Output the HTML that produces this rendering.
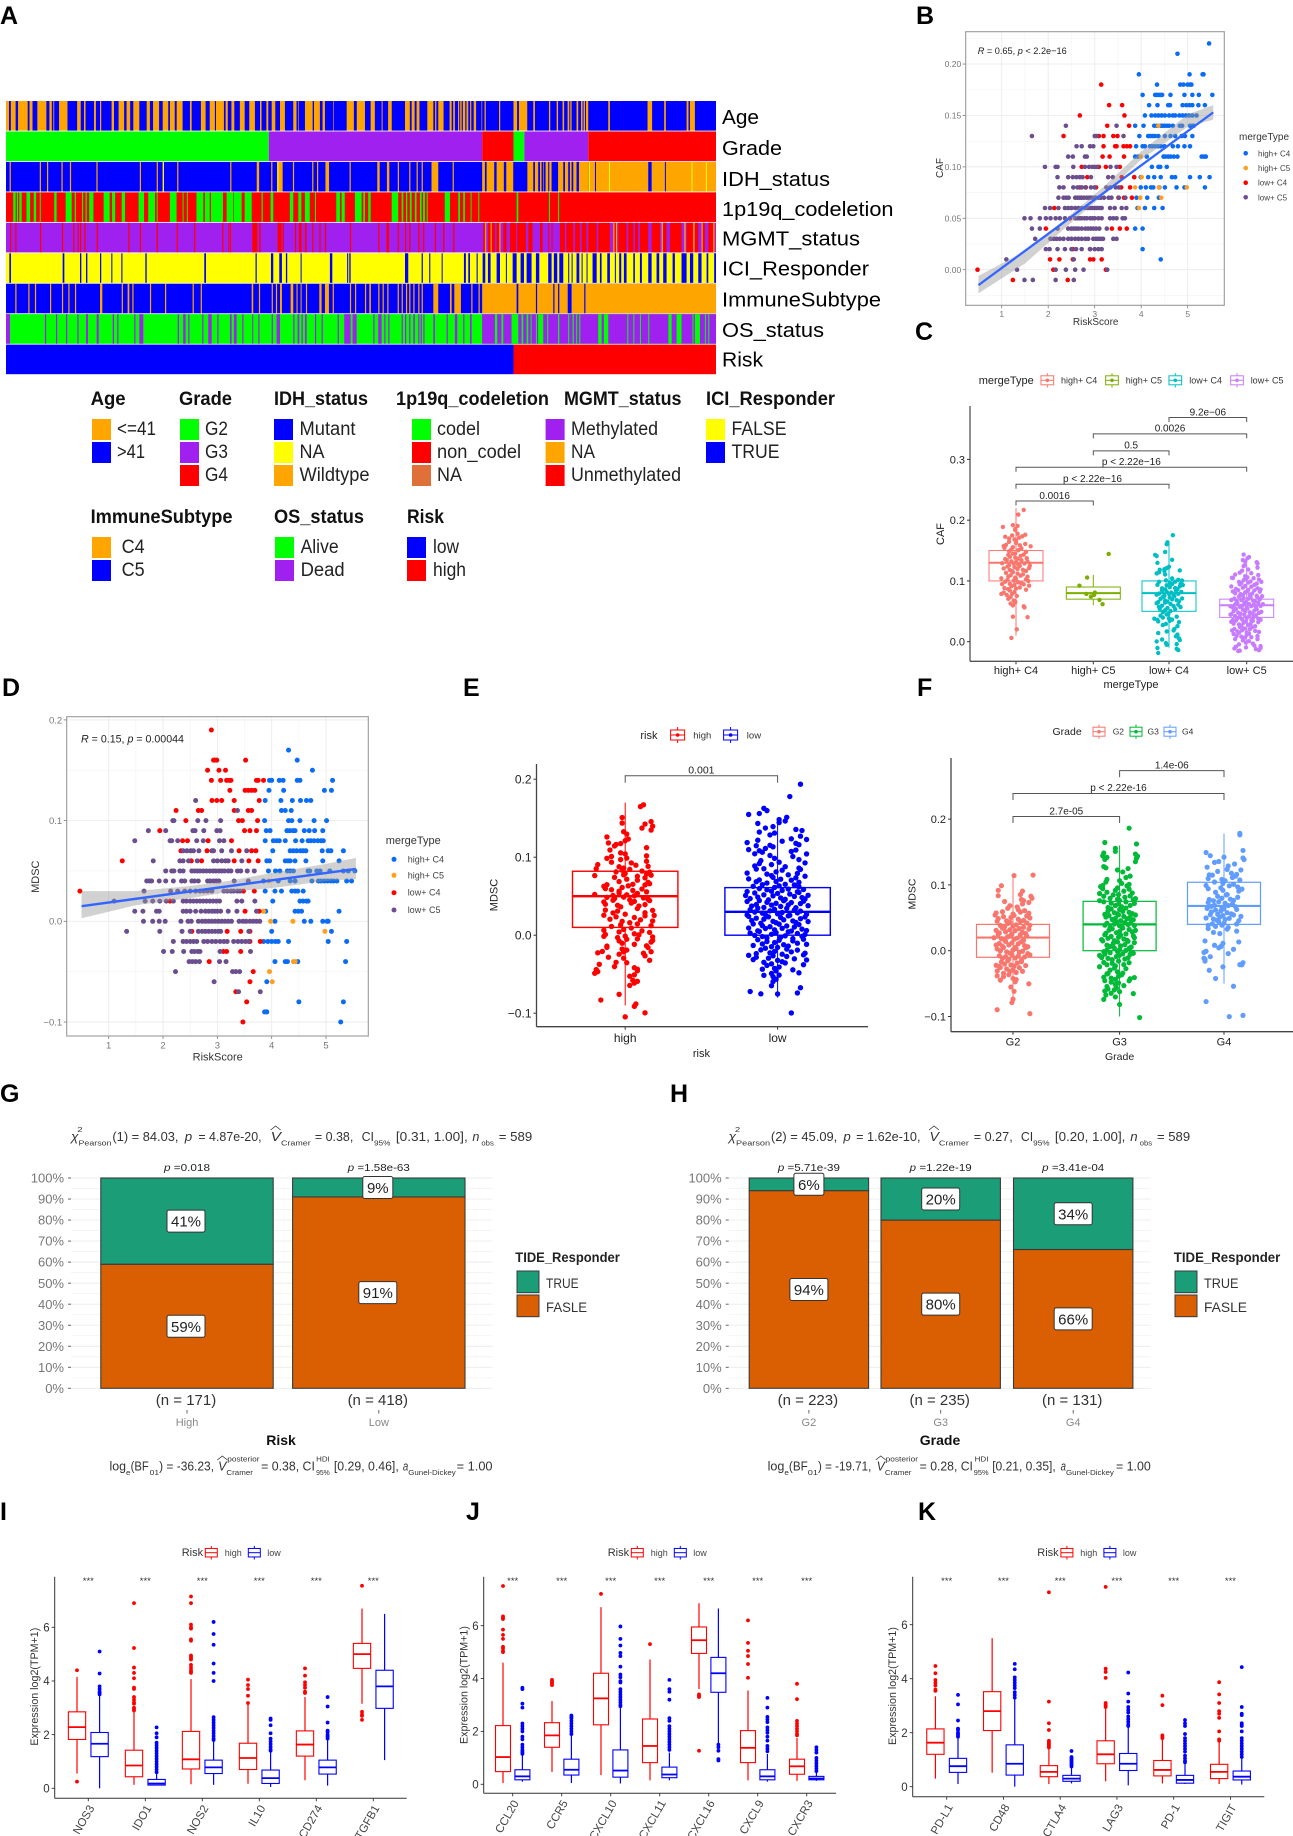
<!DOCTYPE html>
<html lang="en">
<head>
<meta charset="utf-8">
<title>Multi-panel risk score figure</title>
<style>
html,body{margin:0;padding:0;background:#fff}
svg{display:block}
text{font-family:"Liberation Sans",sans-serif}
.letter{font-size:25px;font-weight:bold;fill:#000}
</style>
</head>
<body>
<svg id="figure" width="1293" height="1836" viewBox="0 0 1293 1836">
<rect x="0" y="0" width="1293" height="1836" fill="#fff"/>
<text class="letter" x="0" y="24">A</text>
<text class="letter" x="916" y="24">B</text>
<text class="letter" x="915" y="340">C</text>
<text class="letter" x="2" y="696">D</text>
<text class="letter" x="463" y="696">E</text>
<text class="letter" x="917" y="696">F</text>
<text class="letter" x="0" y="1102">G</text>
<text class="letter" x="670" y="1102">H</text>
<text class="letter" x="0" y="1520">I</text>
<text class="letter" x="466" y="1520">J</text>
<text class="letter" x="918" y="1520">K</text>
</svg>
<script>
/* ===== Panel A: annotation heatmap data (sample indices out of 589) ===== */
const sampleCount = 589;
const trackNames = ["Age","Grade","IDH_status","1p19q_codeletion","MGMT_status","ICI_Responder","ImmuneSubtype","OS_status","Risk"];
const ageBlue = [2.5,4,8,10,18,19.5,22,26,33.5,36,38,39.3,40,44,51,59,62,64.7,66,73,74.6,78,79,87.6,89.6,93.4,98,100,103,105.6,110.6,116.7,119.4,122,127,130,134.6,136,140,141.6,146.5,152.6,154,161.7,165.6,169,173.3,174.2,180.8,182.2,184,187,189.4,194,198,201.8,206.5,210.7,212,216,217.6,220.4,223.4,227.3,231.4,238.3,241,242.5,243,248,254.4,255.5,260.4,262.6,264.6,271.5,272,282.6,288.6,291,297.8,302.5,306,311.6,312.4,317,320,331,335,336.5,339,340.6,343,349.5,354.5,356,357,358.6,363,368,369.7,371,372.4,375,376,376.6,378,379,381,382,383.5,385,386,388,390,394.5,395,397,398,409,410,421,424,425.5,432.4,437.4,438.8,450.4,451.5,456.8,458,461.7,463,465.9,467.3,467.8,469.2,473.3,474.7,477,478.3,478.9,480.3,480.6,483,499.6,501,532.2,536,546,547.4,564.6,566.2,567.4,571.5,589];
const gradeRuns = [[0,0,218],[1,218,395],[2,395,421],[0,421,430],[1,430,483],[2,483,589]];
const idhWildtypeOnMutant = [3,4,28,29,34,35,46,47,53,54,75,76,111,112,125,126,130,131,142,143,186,187,208,210,220,221,225,229.5,238,239,254,255,258,259,265,268,285,286,308,310,316,318,325,326,334.5,335.5,340.6,341.6,344.8,345.8,353,358.6,370.5,371.5,395,421,432.4,483];
const idhMutantOnWildtype = [397.3,398.7,405,407,413,415,437.4,438.8,441.5,443,444.3,445.7,446.2,447.6,449.8,450.7,452.6,458,462.3,463.7,466.4,467.8,469.2,470.6,473.3,475.3,488.6,489.2,532.8,535.6,546.6,547.4];
const idhNA = [130,131,225,226,483.6,484.4,500.2,501,568.7,569.5,580.6,581.4];
const idhWildtypeEnd = [483,589];
const codelGreen = [6,8,9,10,11,13,17,20,23,25,28,28.8,40,42,49.5,54.5,57,58,63,64,66,67,69,72.5,81,86,88,90.5,96,98.7,110,114.5,118,123.6,125,125.8,136,141.5,146.5,147.3,150,150.8,158,163.7,165,169,170,180,183,188.5,189,195.5,198,203.8,212,213,219.5,221.7,235.5,238.3,242.5,245,248,252,256.3,257,274,277,278.4,281,289.5,295,296.4,297.8,300.5,302.5,320,325.4,328.2,329.6,331.8,332.9,335,336.5,339.2,340.6,343.4,344.8,346,347.5,349,349.8,364,368.3,375.2,376.6,379.3,380.7,385.4,386.2,391.8,392.6,423.6,425,450.4,451.2,458,458.8];
const mgmtRed = [3.3,4.3,7.7,8.7,28.2,29.2,46.4,47.4,55.8,56.8,59.4,60.4,61.4,62.4,65,66,75.2,76.2,101.5,102.5,111,112,125,126,141.6,142.6,156,157,179.4,180.4,184.4,185.2,185.8,186.6,204.3,208.5,210,211.2,225.3,228.6,229.5,230.5,239.7,240.7,243,245.2,248,249.4,254,255,260,261,264.6,265.6,285.3,286.3,308.8,309.8,315.7,317.7,324.9,325.9,331,332,334.5,335.5,342,343,346,347,355.8,356.8,362.7,363.7,371,372,396,398,400,405.6,407,409.8,412.5,415.3,418,423,424,431.3,433.3,436.8,443,445.1,449.8,450.7,452.6,453.4,459.5,463.7,465,470.6,472,476.1,477.5,481.6,483,490,491.3,501,503.8,506.5,508,514.8,516.2,520.4,521.7,524.5,525.9,532.8,535.6,542.5,545.2,548,550.8,560.4,564.6,570.1,571.5,574.3,577,579.8,582.6,588.1];
const mgmtNA = [397.3,398.4,402,403,409.2,410.2,503.8,504.8,506,507,543.9,545,562.7,563.8,570.1,571.2,577,578,586.7,587.8];
const iciTrue = [2.8,4.1,47,48.4,61.4,62.5,66.4,67.5,78,79,87.4,88.2,95.7,96.6,115.6,116.7,164.5,165.9,207,208,219.8,221.7,226.7,228.9,232.2,233.3,244.4,245.2,268.7,270.7,283,283.9,284.8,285.9,331,333.7,344.8,345.8,351.1,352,361.4,362.2,379.9,381.5,383.5,384.9,390.4,391.3,395.4,397.6,399.8,402,407,409.8,414.7,415.5,420.3,423.6,426.9,429.7,431.9,436,439.6,442.4,449.8,452.6,454.5,457.3,459,462.3,466.4,467.2,469.2,470,473.3,475.6,477.5,478.3,481.6,482.4,486.6,490,492.7,494.1,498.8,501,505.1,505.9,508.7,510.4,512.6,514.8,520.4,521.7,525.9,527.5,532.8,535.6,539.7,541.9,545.2,548,553,554.9,560.4,564.6,567.4,570.1,574.3,577,581.2,582.6,587.5,589];
const immuneC4OnC5 = [7.7,8.7,18.5,19.5,24,25,36.5,37.5,46.4,47.4,51.7,52.7,57.2,58.2,78,79.9,96,97,100.9,102.3,104.8,105.8,119.4,120.4,131.9,132.9,154.8,155.8,161.5,162.5,203.8,205.1,209.8,210.8,220.4,221.4,223.9,224.9,227.3,228.9,236.1,238.3,241,241.9,244.4,245.2,248.8,249.8,259.9,261.8,264.6,267.9,271,272,285.3,286.3,289.5,290.5,297.8,298.8,301.4,302.7,308.8,309.8,312.4,313.4,316.3,317.3,324.9,325.9,328.2,329.2,331.8,332.8,334.5,335.5,337.9,338.9,342,343,344.8,345.8,354.5,358.6,368.3,369.7,371.9,377.4,386,387,392,393,395,589];
const immuneC5OnC4 = [423.6,425,439.6,440.6,454,455,458,459,466,469.2,479.7,480.7];
const osDead = [0,3.3,32.3,33.3,41.5,42.5,49.8,50.8,59.2,60.2,66.4,68,75.2,76.9,88.5,89.6,92.3,93.3,106.4,107.4,110.6,113.9,142.4,143.5,147,149,151.2,152.2,162.8,163.8,167.8,170.6,175.3,176.3,185.8,187.2,189.1,191.3,196,197,204.3,205.1,209.3,210.3,220.4,221.4,224.5,227.3,238.3,239.3,241.9,243.3,245.2,246.2,248,249.4,256.3,257.3,261.8,262.8,275.1,276.1,280.6,285.9,287.5,290.9,304.7,305.7,308.8,311.6,313.8,314.8,317.1,318.1,328.2,329.2,331,332,334.5,335.5,337.9,339.2,342,343,344,345,346.2,347.2,354.5,355.8,365.5,366.5,372.4,374.4,379.3,380.3,384.9,386.3,395,589];
const osAliveOnDead = [405.6,407.5,411,412.5,419.4,425,427.7,429.1,431.9,433.3,435.2,436,439.6,440.4,441.5,445.7,449,449.8,458,459,466.4,467.2,470,471,473,473.8,475.6,476.4,491.3,494.1,496,499.6,515.4,516.2,520.4,521.2,525.9,526.7,532.8,533.6,549.5,552.2,556.3,560.4,569.5,570.3,571.5,575.7,579.8,580.6,582.6,583.4];
const riskRuns = [[0,0,421],[1,421,589]];
const heatLabelBaselines = [124,155,186,216,245.5,275.5,306.5,337,366.5];
const heatLabelLengths = [37,60,108,171.5,138,147,159,102,41];

/* ===== Panel B: CAF vs RiskScore. Each row: [CAF level, RiskScore, RiskScore, ...] ===== */
const bXTicks = [1,2,3,4,5];
const bYTicks = [0,0.05,0.1,0.15,0.2];
const bYTickLabels = ["0.00","0.05","0.10","0.15","0.20"];
const bHighC4 = [[.22,5.46],[.21,4.78],[.19,3.95,5.04,5.32,5.34],[.18,4.34,4.84,4.91,5,5.05,5.08],[.17,4.03,4.3,4.34,4.38,4.42,4.45,4.63,4.93,5.1,5.24,5.53],[.16,4.17,4.35,4.58,4.62,4.89,4.97,5.04,5.1,5.23,5.37],[.15,4.08,4.22,4.3,4.37,4.44,4.51,4.6,4.68,4.73,4.82,4.89,4.96,5.03,5.1,5.19],[.14,3.87,4.05,4.28,4.34,4.42,4.46,4.5,4.55,4.6,4.68,4.83,4.88,5.05,5.1,5.13],[.13,3.96,4.15,4.2,4.25,4.3,4.37,4.51,4.63,4.73,4.87,4.94,5.1],[.12,3.89,4.03,4.08,4.19,4.24,4.3,4.36,4.42,4.5,4.68,4.79,4.93,5.05],[.11,3.87,3.93,4.12,4.48,4.52,4.58,4.63,4.7,4.78,5.3,5.35,5.39],[.1,4.23,4.37,4.41,4.55],[.09,3.85,3.99,4.15,4.28,4.42,4.66,4.73,5.05,5.26,5.47],[.08,3.99,4.1,4.21,4.26,4.39,4.51,4.76,4.93,5.37],[.07,3.9,4.13,4.38],[.06,3.92,4.08,4.28,4.46],[.04,3.87,4.03],[.02,4.03],[.01,4.42]];
const bHighC5 = [[.14,4.37],[.11,3.99],[.09,4.01],[.08,3.87,4.38,4.98],[.07,3.98,4.43],[.06,3.95]];
const bLowC4 = [[.18,3.14],[.16,3.31,3.59],[.15,2.68,3.64],[.14,3.27,3.74],[.13,2.33,3.09,3.19,3.4,3.49],[.12,3.19,3.44,3.47,3.62,3.69,3.76],[.11,3.17,3.32,3.63],[.1,2.72,3.09,3.24,3.54],[.09,2.84,3.58,3.85],[.08,2.68,2.81,3.03,3.57,3.76],[.07,3.51,3.63,3.8],[.06,2.13],[.05,2.47],[.04,1.95,3.37,3.54,3.69],[.02,2.53,2.9],[.01,2.04,2.24,2.53,2.9,2.97,3.15],[0,.48,2.11,3.24],[-.01,1.24,2.42]];
const bLowC5 = [[.14,2.38,3.47],[.13,1.65,3,3.04,3.62],[.12,2.61,2.72,2.9,2.97],[.11,2.43,2.53,2.79,2.83],[.1,1.93,2.16,2.2,2.54,2.79,2.88,2.95,3,3.05,3.34,3.47],[.09,2.2,2.43,2.53,2.61,2.68,2.74,2.92,3.29,3.39],[.08,2.24,2.33,2.54,2.63,2.72,2.8,2.92,3,3.25,3.34,3.45,3.52],[.07,2.22,2.33,2.39,2.44,2.58,2.63,2.68,2.72,2.77,2.83,2.88,2.92,2.97,3.02,3.08,3.13,3.2,3.3,3.36,3.52,3.66],[.06,1.93,2.04,2.22,2.36,2.43,2.5,2.58,2.65,2.72,2.8,2.85,2.9,2.95,3,3.05,3.1,3.15,3.33,3.43,3.58,3.68],[.05,1.49,1.62,1.82,1.95,2.05,2.16,2.25,2.36,2.58,2.63,2.68,2.72,2.78,2.83,2.9,2.95,3,3.08,3.15,3.33,3.4,3.47,3.6,3.65],[.04,1.65,1.82,2.2,2.43,2.5,2.55,2.6,2.65,2.72,2.8,2.86,2.92,2.97,3.03,3.1,3.26],[.03,1.72,2.05,2.12,2.18,2.25,2.33,2.43,2.5,2.58,2.65,2.72,2.8,2.86,2.97,3.03,3.08,3.13,3.18,3.4,3.47],[.02,1.95,2.03,2.2,2.36,2.5,2.6,2.72,2.9,3,3.08,3.15],[.01,1.1,2.55],[0,1.33,2.16,2.38,2.58,2.76,3.27],[-.01,1.49,1.67,2.16,2.55]];
const bFitX = [.5,5.55];
const bFitY = [-.015,.153];
const bBandX = [.5,1.5,2.5,3.2,4,5,5.55];
const bBandLow = [-.023,.006,.046,.073,.107,.139,.146];
const bBandHigh = [-.006,.018,.054,.081,.115,.151,.16];

/* ===== Panel C ===== */
const cCategories = ["high+ C4","high+ C5","low+ C4","low+ C5"];
const cYTicks = [0,.1,.2,.3];
const cStats = [[.01,.1,.13,.15,.22],[.06,.07,.08,.09,.11],[-.01,.05,.08,.1,.165],[-.01,.04,.06,.07,.14]];
const cPointsHighC4 = [[.22,10],[.205,3],[.19,-17,-4,-1,2],[.18,-1,2,12],[.17,-14,-9,-5,-2,0,4,8],[.16,-16,-13,-9,-4,0,5,12,19],[.15,-15,-9,-6,-1,3,7,13],[.14,-14,-10,-8,-4,-1,2,6,10,14],[.13,-18,-12,-9,-6,-3,0,3,7,11,15,18],[.12,-16,-11,-8,-5,-2,2,5,9,13,17],[.11,-13,-10,-7,-4,-1,2,6,9,15],[.1,-19,-14,-11,-8,-3,0,3,7,13,16],[.09,-18,-15,-10,-6,-2,0,5,10,13,17],[.08,-19,-16,-12,-8,-5,-2,1],[.07,-10,-7,-3,-1],[.06,-7,-4,-1,10,11],[.04,-4],[.037,15],[.023,1],[.007,-6]];
const cPointsHighC5 = [[.14,20],[.11,-8],[.09,-18],[.08,-9,2,1],[.07,-3,8],[.06,12]];
const cPointsLowC4 = [[.18,5],[.16,-3,-2],[.145,-18,-16,-5],[.13,-15,4],[.12,-12,-6,-3,0],[.115,-16,-13,-6,-5,14],[.1,-13,-4,1,4,8,12,15,17],[.09,-15,-9,-5,-3,1,4,8,11,14,18],[.08,-16,-13,-9,-6,-3,0,3,6,9,12,16],[.07,-14,-11,-8,-5,-2,1,4,7,10,13,17],[.06,-16,-13,-9,-5,-2,2,6,12,15],[.05,-12,-8,-5,-1,2,8],[.04,-19,-15,-11,-8,-3,0,4,10],[.03,-14,-8,-4,1,11,13],[.02,6,7,-3],[.01,-14,9,11,13],[0,-16,-9,-4,10,14],[-.01,-15,-3,10],[-.015,-14,12]];
const cPointsLowC5 = [[.14,-4,1,3],[.13,-5,-3,-2,14,13],[.12,-6,-4,2,14],[.11,-19,-15,-9,-2,1,6,15],[.1,-18,-10,-7,-4,-1,2,5,9,13,16,19],[.09,-20,-14,-9,-5,-2,2,6,10,14,18],[.08,-18,-15,-11,-8,-5,-2,1,4,7,10,13,17],[.07,-20,-16,-13,-10,-7,-4,-1,2,5,8,11,14,17,20],[.06,-21,-18,-15,-12,-9,-6,-3,0,3,6,9,12,15,18,21],[.05,-20,-17,-14,-11,-8,-5,-2,1,4,7,10,13,16,19],[.04,-21,-18,-15,-12,-9,-6,-3,0,3,6,9,12,15,18],[.03,-20,-17,-14,-10,-7,-4,-1,2,5,8,11,15],[.02,-19,-16,-12,-9,-6,-3,0,4,7,11,16],[.01,-17,-13,-10,-7,-3,0,3,6,14],[0,-15,-10,-5,-1,3,8,14],[-.01,-16,-14,-9,-1,10,12,16,18],[-.015,-11,18]];
const cBracketFrom = [0,0,0,1,1,2];
const cBracketTo = [1,2,3,2,3,3];
const cBracketLevels = [.2315,.259,.287,.314,.342,.369];
const cBracketLabels = ["0.0016","p < 2.22e\u221216","p < 2.22e\u221216","0.5","0.0026","9.2e\u221206"];

/* ===== Panel D: MDSC vs RiskScore. Each row: [MDSC level, RiskScore, ...] ===== */
const dXTicks = [1,2,3,4,5];
const dYTicks = [-.1,0,.1,.2];
const dYTickLabels = ["\u22120.1","0.0","0.1","0.2"];
const dHighC4 = [[.17,4.31],[.16,4.47],[.15,4.75],[.14,3.96,4,4.14,4.21,4.47,4.52,5.12],[.13,3.95,4.22,4.97,5.1],[.12,3.88,4.17,4.38,4.53,4.64,4.72],[.11,4.18,4.25,4.36],[.1,3.87,4.31,4.37,4.52,4.78,5.01],[.09,3.9,3.97,4.28,4.33,4.39,4.43,4.6,4.69,4.79,4.94],[.08,3.88,4.03,4.09,4.14,4.25,4.44,4.56,4.67,4.72,4.78,4.85,4.91,4.95],[.07,4.02,4.34,4.4,4.46,4.53,4.58,4.63,4.93,5.04,5.09,5.32],[.06,3.91,3.96,4.25,4.3,4.34,4.43,4.63,4.94,5.24],[.05,3.94,4.07,4.15,4.29,4.34,4.4,4.67,4.7,4.83,4.89,5.07,5.32,5.41,5.53],[.04,3.85,4.12,4.34,4.43,4.74,4.86,4.91,4.97,5.03,5.09,5.14,5.2,5.38,5.47],[.03,3.88,4.06,4.18,4.37,4.43,4.48,4.58],[.02,4.02,4.52,4.58,4.64,4.67],[.01,3.89,4.43,4.49,4.55,5.24],[0,4.06,4.6,4.72,4.94,5.02,5.04],[-.01,4,5.1],[-.02,3.85,3.93,4,4.07,4.12,4.31,5.04,5.38],[-.04,4.06,4.25,4.29,4.48,5.36],[-.06,3.91],[-.08,4.5,5.32],[-.09,3.87,3.91],[-.1,5.27]];
const dHighC5 = [[.04,3.95],[.01,3.85],[0,3.98,4.39],[-.01,4.98],[-.04,4.4,4.43],[-.05,3.96],[-.06,4.01]];
const dLowC4 = [[.19,2.89],[.16,2.93,2.96,2.99,3.52],[.15,2.82,3.03,3.15],[.14,2.89,3.06,3.17,3.22,3.25,3.72,3.75,3.85],[.13,3.23,3.51,3.57,3.63,3.69],[.12,2.9,2.99,3.08,3.31,3.77],[.11,2.24,2.65,2.71,3.31,3.57,3.63],[.1,2.42,3.39,3.46,3.74],[.09,1.94,3.5,3.6,3.72],[.08,2.36,2.45,2.83,3.26],[.07,2.33,2.81,3.4,3.63,3.71],[.06,1.25,2.52,2.71,3.31,3.58,3.75],[.03,.47,3.48,3.68],[.02,2.13],[.01,3.51,3.77],[-.01,2.53,3.18,3.43,3.6],[-.02,3.6,3.79],[-.03,3.11,3.17,3.43],[-.04,2.85],[-.05,3.66],[-.06,3.6],[-.07,3.34],[-.08,3.54],[-.1,3.47]];
const dLowC5 = [[.12,2.6],[.11,3.37],[.1,2.18,2.2,2.64,2.79,3.06],[.09,1.73,2.05,2.55,2.59,2.75,2.99,3.05],[.08,1.48,2.13,2.16,2.27,2.62,2.74,3.04,3.12],[.07,2.37,2.44,2.51,2.56,2.66,2.9,2.93,3.08,3.26,3.54],[.06,1.82,2.31,2.37,2.47,2.63,2.93,3,3.08,3.15,3.2,3.45],[.05,2.05,2.16,2.2,2.31,2.37,2.53,2.58,2.63,2.68,2.74,2.8,2.86,2.92,2.97,3.03,3.08,3.13,3.2,3.25,3.37,3.43,3.55,3.68],[.04,1.7,1.75,1.79,1.93,2.05,2.19,2.34,2.4,2.53,2.58,2.65,2.82,2.87,2.93,2.98,3.03,3.31,3.57],[.03,1.65,2.14,2.27,2.4,2.5,2.6,2.68,2.75,2.82,2.9,3.12,3.18,3.25,3.3,3.37,3.42],[.02,1.1,1.67,1.81,1.94,2.06,2.19,2.37,2.43,2.5,2.56,2.62,2.68,2.74,2.8,2.86,2.92,2.98,3.04,3.36,3.45,3.69],[.01,1.48,1.63,1.88,1.93,2.37,2.43,2.5,2.6,2.7,2.78,2.84,2.9,2.95,3,3.06,3.2,3.36,3.72],[0,1.64,1.81,1.93,2.04,2.33,2.46,2.52,2.65,2.72,2.78,2.84,2.9,2.96,3.02,3.08,3.14,3.2,3.26,3.4,3.47,3.53,3.6,3.66,3.72,3.78],[-.01,1.33,1.94,2.35,2.5,2.65,2.72,2.78,2.84,2.9,2.96,3.02,3.06,3.58],[-.02,2.19,2.37,2.43,2.5,2.56,2.62,2.75,2.82,2.9,2.97,3.05,3.12,3.18,3.3,3.38,3.45,3.52,3.58],[-.03,2.01,2.17,2.38,2.53,2.58,2.64,2.68,3.05,3.61],[-.04,2.48,2.54,2.6,2.67,3.04,3.16],[-.05,2.23,3.28,3.34,3.41],[-.06,2.94],[-.07,3.39,3.79]];
const dFitX = [.5,5.55];
const dFitY = [.015,.052];
const dBandX = [.5,1.5,2.5,3.2,4,5,5.55];
const dBandLow = [.003,.016,.023,.029,.033,.04,.042];
const dBandHigh = [.03,.03,.035,.04,.048,.057,.063];

/* ===== Panel E ===== */
const eCategories = ["high","low"];
const eYTicks = [-.1,0,.1,.2];
const eStats = [[-.09,.01,.05,.082,.17],[-.08,0,.03,.061,.15]];
const ePointsHigh = [[.168,10],[.163,12],[.152,-2],[.142,-2,11,13,17,18],[.13,-12,-1,1,17],[.12,-11,-6,0,2,-3],[.11,-10,-7,-3,14],[.1,-12,-9,-3,0,1,14],[.09,-19,-18,-9,-4,-1,4,7,14,15],[.08,-20,-6,-2,-1,0,3,8,11,14,16,17],[.07,-7,-4,1,5,8,13,15,16],[.06,-14,-13,-12,-9,-4,-2,2,5,11,13,14],[.05,-20,-12,-8,-7,-4,-1,1,3,6,8,12,15],[.04,-14,-13,-8,-5,-3,4,6,9,13,16],[.03,-14,-13,-8,-5,0,8,13,18,19],[.02,-10,-6,-2,3,6,10,13,18],[.01,-14,-9,-3,-1,4,8,11,17],[0,-14,-13,-5,-4,0,6,8,9,16,18],[-.01,-12,-4,-2,1,6,14,17,18],[-.02,-18,-15,-12,-4,-2,-1,1,12,15,17],[-.03,-11,-6,-1,13,16],[-.04,-19,-17,-7,1,6,8],[-.05,-20,-18,3,6,8],[-.06,3,5,6,8],[-.08,-16,-4],[-.09,6,7],[-.1,0,13]];
const ePointsLow = [[.19,15],[.18,8],[.16,-12,-9,-7],[.15,-19,1,5,6],[.14,-13,-8,-3,1,12],[.13,-12,-5,-2,15,16],[.12,-20,-13,-5,3,9,12,14,19],[.11,-19,-14,-12,-10,-8,-3,9,12],[.1,-15,-11,-5,-2,10,14,19],[.09,-15,-12,-9,-4,1,5,14,18],[.08,-20,-14,-7,-4,-1,3,7,13,15,18],[.07,-19,-14,-12,-7,-3,-1,2,5,9,12,14],[.06,-20,-16,-12,-10,-7,-4,-2,1,3,7,11,13,14,17],[.05,-21,-18,-15,-13,-9,-6,-3,0,2,5,8,11,14,16,18,20],[.04,-20,-17,-14,-12,-9,-7,-4,-1,2,4,7,9,12,15,17,20],[.03,-20,-18,-15,-13,-10,-8,-5,-2,0,3,6,8,11,13,15,19],[.02,-19,-17,-14,-11,-9,-6,-3,-1,2,4,7,10,12,15,18,20],[.01,-19,-16,-13,-10,-8,-5,-2,1,3,6,9,11,14,16,19],[0,-18,-15,-12,-10,-7,-4,-1,2,5,7,10,13,16,18],[-.01,-16,-13,-10,-7,-4,-2,1,4,7,10,13,17,19],[-.02,-14,-11,-8,-5,-2,0,3,6,9,13,18],[-.03,-19,-16,-14,-9,-6,-3,0,3,6,11,17,19],[-.04,-10,-7,-4,-2,1,5,10,17],[-.05,-9,-4,-3,-1,1,14],[-.06,-4,-3,-1],[-.07,-18,13,15],[-.075,0],[-.08,-11],[-.098,9]];

/* ===== Panel F ===== */
const fCategories = ["G2","G3","G4"];
const fYTicks = [-.1,0,.1,.2];
const fStats = [[-.08,-.01,.02,.04,.113],[-.1,0,.04,.075,.16],[-.05,.04,.068,.104,.178]];
const fPointsG2 = [[.118,19],[.11,1],[.1,-11],[.09,-14,7,9],[.08,-14,8,10,17,18],[.07,-8,-3,4,9,15],[.06,-16,-10,-5,0,5,7,11,15],[.05,-17,-14,-9,-6,-2,1,5,10,13,16],[.04,-15,-12,-8,-5,-3,0,3,7,10,13,16],[.03,-16,-13,-10,-7,-3,-1,2,6,9,12,15],[.02,-18,-14,-11,-8,-5,-2,1,4,7,10,13],[.01,-16,-13,-10,-7,-4,-1,2,5,8,11,14],[0,-15,-12,-9,-6,-3,0,3,6,9,12,14],[-.01,-13,-10,-7,-4,-1,2,5,8,11,16],[-.02,-16,-13,-11,-8,-5,-2,1,4,8,12],[-.03,-15,-12,-9,-6,-3,0,3,6,9],[-.04,-15,-12,-9,-4,0,3],[-.05,2,15],[-.06,-2,1],[-.07,0],[-.08,-1],[-.093,-15,16]];
const fPointsG3 = [[.187,9],[.16,-14,-4,16],[.15,-15,-4,15],[.14,-16,-14,-12,15,16,17],[.13,-15,-13],[.12,-2,3,8],[.11,-12,0,6,10],[.1,-18,-16,-13,-2,2,7,9],[.09,-19,-16,-12,-4,-1,4,9,12],[.08,-19,-15,-9,-6,-2,0,5,10,13,15],[.07,-15,-11,-8,-4,-1,2,6,10,14],[.06,-14,-11,-8,-5,-2,0,3,6,9,12],[.05,-13,-10,-7,-4,-1,1,4,7,10,13,15],[.04,-14,-12,-9,-5,-3,0,2,5,8,11,14],[.03,-13,-10,-7,-3,0,3,6,9,12,15],[.02,-17,-14,-11,-8,-5,-1,1,4,7,13,14],[.01,-16,-12,-9,-6,-2,1,5,8,11,14],[0,-15,-12,-9,-5,-2,0,3,6,9,11,13],[-.01,-19,-17,-14,-11,-7,-3,0,5,8,10],[-.02,-19,-15,-12,-7,-4,-1,4,9],[-.03,-11,-9,-5,-2,3,6],[-.04,-15,-12,-8,-4,-1,2,10,14],[-.05,-14,-12,-8,-4,-1,4,9],[-.06,-14,-11,-8,-5,-3,0],[-.07,-15,-13,-4,13],[-.08,0],[-.098,19]];
const fPointsG4 = [[.175,15,15],[.155,18],[.15,-17],[.14,-13,-5,0,19,18],[.13,-16,-9,4,10],[.12,-14,-6,3,7,12,16],[.11,-15,-11,-2,1,8,11,15],[.1,-17,-9,-3,-1,5,9,13],[.09,-15,-8,-1,3,14,17],[.08,-14,-10,-6,-2,2,6,9,13],[.07,-15,-12,-9,-5,-2,1,4,8,11],[.06,-16,-12,-8,-6,-3,0,3,7,12],[.05,-17,-13,-10,-7,-4,-1,1,5,9,14,16],[.04,-15,-11,-8,-5,-2,0,4,12],[.03,-15,-10,-4,3,12],[.01,-18,-9,-3,-1,14],[0,-19,-17,-5,4,9],[-.01,-19,-13,-18],[-.02,-18,15,18],[-.025,-14,-1,17],[-.04,-8],[-.05,9],[-.08,-17],[-.098,18],[-.105,5]];
const fBracketFrom = [0,0,1];
const fBracketTo = [1,2,2];
const fBracketLevels = [.204,.239,.2736];
const fBracketLabels = ["2.7e-05","p < 2.22e-16","1.4e-06"];

/* Vertical display jitter for strip points, as a fraction of one value step (like geom_jitter) */
const stripVerticalJitter = [.31,-.42,.12,-.18,.47,-.05,-.36,.22,.4,-.27,.03,-.48,.17,.36,-.12,-.33,.26,.08,-.44,.44,-.22,.14,-.09];

/* ===== Panels G and H ===== */
const gPercentTicks = [0,10,20,30,40,50,60,70,80,90,100];
const gCategories = ["High","Low"];
const gCounts = [171,418];
const gTruePct = [41,9];
const gFalsePct = [59,91];
const gPLabels = ["0.018","1.58e-63"];
const hCategories = ["G2","G3","G4"];
const hCounts = [223,235,131];
const hTruePct = [6,20,34];
const hFalsePct = [94,80,66];
const hPLabels = ["5.71e-39","1.22e-19","3.41e-04"];

/* ===== Panel I ===== */
const iGenes = ["NOS3","IDO1","NOS2","IL10","CD274","TGFB1"];
const iYTicks = [0,2,4,6];
const iHighStats = [[.55,1.82,2.28,2.85,4.15],[.13,.43,.85,1.42,2.85],[.15,.72,1.08,2.12,4.07],[.17,.7,1.13,1.68,3.15],[.3,1.2,1.63,2.14,3.4],[3.15,4.47,5,5.4,6.7]];
const iLowStats = [[0,1.18,1.66,2.08,3.48],[.13,.12,.18,.33,.56],[.13,.55,.78,1.05,1.75],[.05,.18,.38,.68,1.4],[.1,.53,.78,1.05,1.8],[1.05,2.98,3.8,4.4,6.5]];
const iHighOutliers = [[4.4,.25],[6.9,5.23,4.5,4.3,4.1,3.75,3.7,3.4,3.3,3.2,3.15,3,2.95,2.9],[7.15,6.9,6.1,6,5.95,5.55,5.5,4.95,4.9,4.85,4.8,4.6,4.5,4.4,4.35,4.3],[4.05,3.85,3.7,3.45,3.18],[4.47,4.2,3.95,3.85,3.75,3.6,3.55],[7.55,2.85,2.75,2.7,2.55]];
const iLowOutliers = [[5.1,4.28,3.8,3.7,3.6,3.55,3.5],[2.27,2.05,1.9,1.7,1.6,1.5,1.4,1.3,1.2,1.1,1,.9,.8,.7,.6],[6.2,5.75,5.35,4.65,4.3,4,2.65,2.55,2.45,2.35,2.25,2.15,2.05,1.95,1.85,1.8],[2.6,2.55,2.35,2.05,1.85,1.75,1.65,1.55,1.45,1.4],[3.4,3.05,2.45,2.15,2.1,2,1.95,1.9,1.85],[]];

/* ===== Panel J ===== */
const jGenes = ["CCL20","CCR5","CXCL10","CXCL11","CXCL16","CXCL9","CXCR3"];
const jYTicks = [0,2,4,6];
const jHighStats = [[.05,.48,1.03,2.22,4.6],[.47,1.4,1.85,2.33,3.15],[.35,2.25,3.25,4.2,6.7],[.15,.82,1.45,2.47,4.72],[3.6,4.95,5.45,5.95,6.85],[.15,.82,1.38,2.03,3.55],[.13,.38,.68,.95,1.75]];
const jLowStats = [[.1,.17,.3,.55,1.1],[.05,.35,.55,.95,1.85],[.03,.27,.52,1.3,2.9],[.15,.25,.37,.65,1.2],[1.2,3.48,4.2,4.8,6.65],[.1,.17,.3,.55,1.15],[.13,.17,.22,.3,.45]];
const jHighOutliers = [[7.5,6.35,6.3,6.25,5.85,5.65,5.5,5.2,5.15,5.05,5],[3.95,3.9,3.85,3.8,3.75],[7.2],[5.3],[3.4,3.35,3.3,1.27],[6.2,5.35,5.05,4.85,4.55,4.03],[3.8,3.22,2.4,2.3,2.2,2.1,2,1.9,1.85]];
const jLowOutliers = [[3.65,3.6,3.05,2.9,2.3,2.2,2.1,2,1.8,1.7,1.5,1.4,1.3,1.25,1.2,1.15],[2.6,2.55,2.5,2.4,2.3,2.2,2.1,2,1.9],[5.97,5.5,5.25,4.97,4.85,4.45,4.15,4.05,3.9,3.85,3.6,3.5,3.4,3.3,3.2,3.1,3,2.95],[3.95,3.6,3.5,3.2,2.5,2.4,2.2,2.1,2,1.9,1.8,1.7,1.6,1.5,1.4,1.3],[1.5,1.4,1.27,.95,.9],[3.27,2.9,2.55,2.45,2.35,2.15,2.05,1.95,1.8,1.65,1.45,1.35,1.25],[1.4,1.3,1.2,1,.9,.8,.7,.6,.5]];

/* ===== Panel K ===== */
const kGenes = ["PD-L1","CD48","CTLA4","LAG3","PD-1","TIGIT"];
const kYTicks = [0,2,4,6];
const kHighStats = [[.3,1.2,1.63,2.14,3.35],[.52,2.08,2.8,3.52,5.5],[.1,.37,.55,.78,1.4],[.2,.85,1.2,1.7,3],[.12,.4,.62,.97,1.8],[.1,.3,.55,.83,1.65]];
const kLowStats = [[.1,.53,.76,1.05,1.8],[0,.43,.85,1.55,3.25],[.12,.2,.3,.42,.7],[.05,.6,.85,1.23,2.2],[.1,.13,.25,.42,.85],[.08,.25,.37,.58,1.05]];
const kHighOutliers = [[4.47,4.2,3.95,3.85,3.75,3.6,3.55],[],[7.2,3.15,2.35,2.1,1.7,1.65,1.6,1.55,1.5,1.45],[7.4,4.37,4.25,4.03,3.1,3.05,3,2.95],[3.37,3.02,1.9,1.85,1.8],[3.87,3.42,3.1,2.8,2.7,2.55,2.05,1.75,1.7]];
const kLowOutliers = [[3.4,3.05,2.45,2.15,2.1,2,1.95,1.9,1.85],[4.55,4.35,4.05,3.95,3.85,3.75,3.65,3.5,3.4,3.3],[1.32,1.1,1.05,1,.95,.9,.85,.8,.75],[4.23,3.45,3.15,2.95,2.85,2.75,2.6,2.5,2.4,2.3,2.25],[2.47,2.35,2.25,1.95,1.8,1.7,1.6,1.5,1.4,1.3,1.15,1.05,.95,.9],[4.43,2.95,2.7,2.65,2.35,2.3,2.25,2.05,1.8,1.7,1.6,1.5,1.4,1.3,1.2,1.1]];

/* ===== drawing helpers ===== */
const root = document.getElementById('figure');
function add(parent, tag, name, attrs, content) {
  const el = document.createElementNS(root.namespaceURI, tag);
  
  
  for (const k in attrs) el.setAttribute(k, attrs[k]);
  if (content !== undefined) el.textContent = content;
  parent.appendChild(el);
  return el;
}
function group(name) { return add(root, 'g', name, {}); }
function line(p, name, x1, y1, x2, y2, stroke, w) {
  return add(p, 'line', name, {x1: x1, y1: y1, x2: x2, y2: y2, stroke: stroke, 'stroke-width': w});
}
function label(p, name, x, y, s, size, o) {
  o = o || {};
  const a = {x: x, y: y, 'font-size': size, fill: o.fill || '#000'};
  if (o.anchor) a['text-anchor'] = o.anchor;
  if (o.bold) a['font-weight'] = 'bold';
  if (o.italic) a['font-style'] = 'italic';
  if (o.len) { a.textLength = o.len; a.lengthAdjust = 'spacingAndGlyphs'; }
  if (o.rot !== undefined) a.transform = 'rotate(' + o.rot + ' ' + x + ' ' + y + ')';
  return add(p, 'text', name, a, s);
}
function slug(s) { return String(s).toLowerCase().replace(/[^a-z0-9]+/g, '-').replace(/^-|-$/g, ''); }

/* ---------- Panel A ---------- */
(function () {
  const g = group('risk-annotation-heatmap');
  const C = {orange: '#FFA500', blue: '#0000FF', green: '#00FF00', purple: '#A020F0', red: '#FF0000', yellow: '#FFFF00', brown: '#E0703A'};
  const sx = i => 6 + i * (710 / sampleCount);
  const rowTop = r => 101 + r * 30.45;
  const rowH = 29.6;
  function seg(r, color, a, b, name) {
    add(g, 'rect', name, {x: sx(a), y: rowTop(r), width: Math.max(sx(b) - sx(a), 1), height: rowH, fill: color});
  }
  function stripes(r, color, cuts, name) {
    for (let i = 0; i + 1 < cuts.length; i += 2) seg(r, color, cuts[i], cuts[i + 1], name);
  }
  seg(0, C.orange, 0, sampleCount, 'age-track');
  stripes(0, C.blue, ageBlue, 'age-over-41-stripe');
  const gradeColors = [C.green, C.purple, C.red];
  gradeRuns.forEach(run => seg(1, gradeColors[run[0]], run[1], run[2], 'grade-run'));
  seg(2, C.blue, 0, sampleCount, 'idh-track');
  stripes(2, C.orange, idhWildtypeOnMutant, 'idh-wildtype-stripe');
  stripes(2, C.orange, idhWildtypeEnd, 'idh-wildtype-run');
  stripes(2, C.blue, idhMutantOnWildtype, 'idh-mutant-stripe');
  seg(2, C.blue, 420.8, 426.9, 'idh-mutant-run');
  seg(2, C.blue, 427.7, 432.4, 'idh-mutant-run');
  stripes(2, C.yellow, idhNA, 'idh-na-stripe');
  seg(3, C.red, 0, sampleCount, 'codeletion-track');
  stripes(3, C.green, codelGreen, 'codeletion-codel-stripe');
  seg(4, C.purple, 0, sampleCount, 'mgmt-track');
  stripes(4, C.red, mgmtRed, 'mgmt-unmethylated-stripe');
  stripes(4, C.orange, mgmtNA, 'mgmt-na-stripe');
  seg(5, C.yellow, 0, sampleCount, 'ici-track');
  stripes(5, C.blue, iciTrue, 'ici-true-stripe');
  seg(6, C.blue, 0, sampleCount, 'immune-track');
  stripes(6, C.orange, immuneC4OnC5, 'immune-c4-stripe');
  stripes(6, C.blue, immuneC5OnC4, 'immune-c5-stripe');
  seg(7, C.green, 0, sampleCount, 'os-track');
  stripes(7, C.purple, osDead, 'os-dead-stripe');
  stripes(7, C.green, osAliveOnDead, 'os-alive-stripe');
  const riskColors = [C.blue, C.red];
  riskRuns.forEach(run => seg(8, riskColors[run[0]], run[1], run[2], 'risk-run'));
  trackNames.forEach((t, i) => label(g, 'track-label-' + slug(t), 722, heatLabelBaselines[i], t, 20.5, {len: heatLabelLengths[i]}));

  const lg = group('heatmap-legend');
  const legends = [
    ['Age', 90.6, 408, 35, 92, 117, [['<=41', C.orange, 39], ['>41', C.blue, 28]]],
    ['Grade', 179, 408, 53, 180, 205, [['G2', C.green, 23], ['G3', C.purple, 23], ['G4', C.red, 23]]],
    ['IDH_status', 274, 408, 94, 274, 299.5, [['Mutant', C.blue, 56], ['NA', C.yellow, 25], ['Wildtype', C.orange, 70]]],
    ['1p19q_codeletion', 396, 408, 153, 412, 437, [['codel', C.green, 43], ['non_codel', C.red, 84], ['NA', C.brown, 25]]],
    ['MGMT_status', 564, 408, 117.5, 545.6, 571, [['Methylated', C.purple, 87], ['NA', C.orange, 24], ['Unmethylated', C.red, 110]]],
    ['ICI_Responder', 706, 408, 129, 706, 731.5, [['FALSE', C.yellow, 55], ['TRUE', C.blue, 48]]],
    ['ImmuneSubtype', 90.6, 526, 142, 92, 121.6, [['C4', C.orange, 23], ['C5', C.blue, 23]]],
    ['OS_status', 274, 526, 90, 275, 300.6, [['Alive', C.green, 38], ['Dead', C.purple, 44]]],
    ['Risk', 407, 526, 37, 407, 433, [['low', C.blue, 26], ['high', C.red, 33]]]
  ];
  legends.forEach(L => {
    label(lg, 'legend-title-' + slug(L[0]), L[1], L[2] - 3, L[0], 19, {bold: true, len: L[3], fill: '#111'});
    L[6].forEach((e, i) => {
      const top = L[2] + 11 + i * 23;
      add(lg, 'rect', 'legend-swatch-' + slug(L[0]) + '-' + slug(e[0] || 'x'), {x: L[4], y: top, width: 19, height: 21, fill: e[1]});
      label(lg, 'legend-label-' + slug(L[0]) + '-' + slug(e[0] || 'x'), L[5], top + 16, e[0], 19, {len: e[2], fill: '#222'});
    });
  });
})();

/* ---------- Shared scatter panel ---------- */
const seriesColors = ['#0a6cf5', '#ff9f1c', '#ff0000', '#6b4e8e'];
const seriesNames = ['high+ C4', 'high+ C5', 'low+ C4', 'low+ C5'];
function drawScatter(cfg) {
  const g = group(cfg.name);
  const X = cfg.X, Y = cfg.Y;
  cfg.yMinor.forEach(v => line(g, 'minor-gridline', cfg.left, Y(v), cfg.right, Y(v), '#f3f3f3', .6));
  for (let i = 0; i + 1 < cfg.xTicks.length; i++) {
    const m = X((cfg.xTicks[i] + cfg.xTicks[i + 1]) / 2);
    line(g, 'minor-gridline', m, cfg.top, m, cfg.bottom, '#f3f3f3', .6);
  }
  cfg.yTicks.forEach((v, i) => {
    line(g, 'y-gridline', cfg.left, Y(v), cfg.right, Y(v), '#ebebeb', .9);
    line(g, 'y-tick', cfg.left - 3, Y(v), cfg.left, Y(v), '#777', .8);
    label(g, 'y-tick-label', cfg.left - 4.5, Y(v) + cfg.fs * .36, cfg.yLabels[i], cfg.fs, {anchor: 'end', fill: '#777'});
  });
  cfg.xTicks.forEach(v => {
    line(g, 'x-gridline', X(v), cfg.top, X(v), cfg.bottom, '#ebebeb', .9);
    line(g, 'x-tick', X(v), cfg.bottom, X(v), cfg.bottom + 3, '#777', .8);
    label(g, 'x-tick-label', X(v), cfg.bottom + 3 + cfg.fs, String(v), cfg.fs, {anchor: 'middle', fill: '#777'});
  });
  cfg.series.forEach((rows, si) => {
    rows.forEach(row => {
      for (let i = 1; i < row.length; i++) {
        add(g, 'circle', 'point-' + slug(seriesNames[si]), {cx: X(row[i]), cy: Y(row[0]), r: cfg.r, fill: seriesColors[si]});
      }
    });
  });
  const up = cfg.bandX.map((v, i) => X(v) + ',' + Y(cfg.bandHigh[i]));
  const dn = cfg.bandX.map((v, i) => X(v) + ',' + Y(cfg.bandLow[i])).reverse();
  add(g, 'polygon', 'confidence-band', {points: up.concat(dn).join(' '), fill: '#999', 'fill-opacity': .45});
  line(g, 'regression-line', X(cfg.fitX[0]), Y(cfg.fitY[0]), X(cfg.fitX[1]), Y(cfg.fitY[1]), '#3366ff', cfg.fitW);
  add(g, 'rect', 'plot-border', {x: cfg.left, y: cfg.top, width: cfg.right - cfg.left, height: cfg.bottom - cfg.top, fill: 'none', stroke: '#999', 'stroke-width': 1.1});
  const st = add(g, 'text', 'correlation-annotation', {x: cfg.statX, y: cfg.statY, 'font-size': cfg.statFs, fill: '#222', textLength: cfg.statLen, lengthAdjust: 'spacingAndGlyphs'});
  cfg.stat.forEach(part => {
    add(st, 'tspan', 'correlation-annotation-part', part[1] ? {'font-style': 'italic'} : {}, part[0]);
  });
  label(g, 'x-axis-title', cfg.xTitle[0], cfg.xTitle[1], 'RiskScore', cfg.titleFs, {anchor: 'middle', fill: '#333'});
  label(g, 'y-axis-title', cfg.yTitle[0], cfg.yTitle[1], cfg.yName, cfg.titleFs, {anchor: 'middle', fill: '#333', rot: -90});
  label(g, 'legend-title', cfg.legX, cfg.legY, 'mergeType', cfg.titleFs, {fill: '#333'});
  seriesNames.forEach((n, i) => {
    const y = cfg.keyY[i];
    add(g, 'circle', 'legend-key-' + slug(n), {cx: cfg.keyX, cy: y, r: cfg.r, fill: seriesColors[i]});
    label(g, 'legend-label-' + slug(n), cfg.keyTextX, y + 3, n, cfg.keyFs, {fill: '#444'});
  });
}
drawScatter({
  name: 'caf-riskscore-scatter', left: 965.7, right: 1224.3, top: 31.7, bottom: 305.3,
  X: s => 1001.7 + (s - 1) * 46.5, Y: v => 269.7 - v * 1028.3,
  xTicks: bXTicks, yTicks: bYTicks, yLabels: bYTickLabels, yMinor: [-.025, .025, .075, .125, .175, .225],
  series: [bHighC4, bHighC5, bLowC4, bLowC5], r: 2.3, fs: 8.5,
  fitX: bFitX, fitY: bFitY, bandX: bBandX, bandLow: bBandLow, bandHigh: bBandHigh, fitW: 2.3,
  stat: [['R', 1], [' = 0.65, ', 0], ['p', 1], [' < 2.2e\u221216', 0]], statX: 977.7, statY: 54, statFs: 9.5, statLen: 89,
  xTitle: [1095.7, 325], yTitle: [943, 168], yName: 'CAF', titleFs: 10,
  legX: 1239, legY: 140, keyX: 1245.7, keyY: [153.3, 168, 182.7, 197.3], keyTextX: 1258, keyFs: 8
});
drawScatter({
  name: 'mdsc-riskscore-scatter', left: 66.7, right: 368.3, top: 716.7, bottom: 1036,
  X: s => 108.7 + (s - 1) * 54.33, Y: v => 921.3 - v * 1007,
  xTicks: dXTicks, yTicks: dYTicks, yLabels: dYTickLabels, yMinor: [-.05, .05, .15],
  series: [dHighC4, dHighC5, dLowC4, dLowC5], r: 2.5, fs: 9.5,
  fitX: dFitX, fitY: dFitY, bandX: dBandX, bandLow: dBandLow, bandHigh: dBandHigh, fitW: 2.5,
  stat: [['R', 1], [' = 0.15, ', 0], ['p', 1], [' = 0.00044', 0]], statX: 81, statY: 742.7, statFs: 11, statLen: 103,
  xTitle: [217.7, 1060.7], yTitle: [39, 876.7], yName: 'MDSC', titleFs: 11,
  legX: 385.7, legY: 844, keyX: 394, keyY: [859.3, 875.3, 892.7, 910], keyTextX: 407.7, keyFs: 9
});

/* ---------- Shared jitter box panel ---------- */
function drawBoxKey(g, cx, cy, w, h, color, dot) {
  line(g, 'legend-key-whisker', cx, cy - h * .8, cx, cy + h * .8, color, 1);
  add(g, 'rect', 'legend-key-box', {x: cx - w / 2, y: cy - h / 2, width: w, height: h, fill: '#fff', stroke: color, 'stroke-width': 1});
  line(g, 'legend-key-median', cx - w / 2, cy, cx + w / 2, cy, color, 1);
  if (dot) add(g, 'circle', 'legend-key-dot', {cx: cx, cy: cy, r: 1.8, fill: color});
}
function drawJitterPanel(cfg) {
  const g = group(cfg.name);
  const Y = cfg.Y;
  const stepPx = Y(0) - Y(.01);
  let jitterIndex = 0;
  cfg.xs.forEach((cx, ci) => {
    const color = cfg.colors[ci], s = cfg.stats[ci];
    cfg.points[ci].forEach(row => {
      for (let i = 1; i < row.length; i++) {
        const shift = stripVerticalJitter[jitterIndex % stripVerticalJitter.length] * stepPx;
        jitterIndex++;
        add(g, 'circle', 'jitter-point-' + slug(cfg.categories[ci]), {cx: cx + row[i] / 100 * cfg.pitch, cy: Y(row[0]) + shift, r: cfg.r, fill: color});
      }
    });
    line(g, 'whisker-' + slug(cfg.categories[ci]), cx, Y(s[0]), cx, Y(s[1]), color, 1);
    line(g, 'whisker-' + slug(cfg.categories[ci]), cx, Y(s[3]), cx, Y(s[4]), color, 1);
    add(g, 'rect', 'box-' + slug(cfg.categories[ci]), {x: cx - cfg.half, y: Y(s[3]), width: cfg.half * 2, height: Y(s[1]) - Y(s[3]), fill: 'none', stroke: color, 'stroke-width': cfg.lw});
    line(g, 'median-' + slug(cfg.categories[ci]), cx - cfg.half, Y(s[2]), cx + cfg.half, Y(s[2]), color, cfg.lw + 1);
    line(g, 'x-tick', cx, cfg.bottom, cx, cfg.bottom + 3, '#333', 1);
    label(g, 'x-tick-label-' + slug(cfg.categories[ci]), cx, cfg.xLabelY, cfg.categories[ci], cfg.tickFs, {anchor: 'middle', fill: '#222'});
  });
  line(g, 'y-axis-line', cfg.left, cfg.top, cfg.left, cfg.bottom, cfg.axisColor, 1.3);
  line(g, 'x-axis-line', cfg.left, cfg.bottom, cfg.right, cfg.bottom, cfg.axisColor, 1.3);
  cfg.yTicks.forEach(v => {
    line(g, 'y-tick', cfg.left - 3, Y(v), cfg.left, Y(v), '#333', 1);
    label(g, 'y-tick-label', cfg.left - 5, Y(v) + cfg.tickFs * .36, (v < 0 ? '\u2212' : '') + Math.abs(v).toFixed(1), cfg.tickFs, {anchor: 'end', fill: '#222'});
  });
  cfg.bFrom.forEach((f, i) => {
    const x1 = cfg.xs[f], x2 = cfg.xs[cfg.bTo[i]], y = Y(cfg.bLevels[i]);
    add(g, 'polyline', 'significance-bracket', {points: x1 + ',' + (y + cfg.tip) + ' ' + x1 + ',' + y + ' ' + x2 + ',' + y + ' ' + x2 + ',' + (y + cfg.tip), fill: 'none', stroke: '#555', 'stroke-width': 1});
    label(g, 'significance-label', (x1 + x2) / 2, y - 2.2, cfg.bLabels[i], cfg.bFs, {anchor: 'middle', fill: '#222'});
  });
  label(g, 'x-axis-title', cfg.xTitle[0], cfg.xTitle[1], cfg.xName, cfg.titleFs, {anchor: 'middle', fill: '#222'});
  label(g, 'y-axis-title', cfg.yTitle[0], cfg.yTitle[1], cfg.yName, cfg.titleFs, {anchor: 'middle', fill: '#222', rot: -90});
  label(g, 'legend-title', cfg.legX, cfg.legY, cfg.legName, cfg.titleFs, {fill: '#222'});
  cfg.categories.forEach((c, i) => {
    drawBoxKey(g, cfg.keyX[i], cfg.keyCy, cfg.keyW, cfg.keyH, cfg.colors[i], true);
    label(g, 'legend-label-' + slug(c), cfg.keyTextX[i], cfg.legY - .5, c, cfg.keyFs, {fill: '#333'});
  });
}
drawJitterPanel({
  name: 'caf-merge-type-boxplot', categories: cCategories, xs: [1016, 1093.3, 1169, 1246.7], pitch: 77, half: 27,
  colors: ['#F8766D', '#7CAE00', '#00BFC4', '#C77CFF'], stats: cStats,
  points: [cPointsHighC4, cPointsHighC5, cPointsLowC4, cPointsLowC5], r: 2.2, lw: 1,
  Y: v => 641.7 - v * 607.7, left: 970, right: 1293, top: 406, bottom: 661.3, axisColor: '#555',
  yTicks: cYTicks, tickFs: 11, xLabelY: 674,
  bFrom: cBracketFrom, bTo: cBracketTo, bLevels: cBracketLevels, bLabels: cBracketLabels, tip: 4.5, bFs: 10,
  xName: 'mergeType', xTitle: [1131, 688], yName: 'CAF', yTitle: [944, 534], titleFs: 11,
  legName: 'mergeType', legX: 978.7, legY: 384, keyX: [1047.3, 1112, 1175.3, 1237], keyCy: 380.3, keyW: 12.7, keyH: 9,
  keyTextX: [1061, 1125.7, 1189.3, 1250.7], keyFs: 9
});
drawJitterPanel({
  name: 'mdsc-risk-boxplot', categories: eCategories, xs: [625.2, 777.6], pitch: 152.4, half: 52.7, colors: ['#FF0000', '#0000FF'], stats: eStats,
  points: [ePointsHigh, ePointsLow], r: 2.7, lw: 1.4,
  Y: v => 935.2 - v * 780, left: 536.5, right: 868, top: 764, bottom: 1026.7, axisColor: '#444',
  yTicks: eYTicks, tickFs: 12, xLabelY: 1042,
  bFrom: [0], bTo: [1], bLevels: [.2045], bLabels: ['0.001'], tip: 7, bFs: 10.5,
  xName: 'risk', xTitle: [701.4, 1057], yName: 'MDSC', yTitle: [497.6, 895], titleFs: 11,
  legName: 'risk', legX: 640.4, legY: 739, keyX: [677.6, 730.6], keyCy: 735, keyW: 14, keyH: 10,
  keyTextX: [693.3, 746.8], keyFs: 9.5
});
drawJitterPanel({
  name: 'mdsc-grade-boxplot', categories: fCategories, xs: [1013, 1119.6, 1224], pitch: 105.5, half: 36.5, colors: ['#F8766D', '#00BA38', '#619CFF'], stats: fStats,
  points: [fPointsG2, fPointsG3, fPointsG4], r: 2.6, lw: 1.2,
  Y: v => 950.7 - v * 658, left: 951, right: 1293, top: 758, bottom: 1031.7, axisColor: '#444',
  yTicks: fYTicks, tickFs: 11, xLabelY: 1045.7,
  bFrom: fBracketFrom, bTo: fBracketTo, bLevels: fBracketLevels, bLabels: fBracketLabels, tip: 6.5, bFs: 10,
  xName: 'Grade', xTitle: [1119.6, 1060], yName: 'MDSC', yTitle: [915.5, 894], titleFs: 10.5,
  legName: 'Grade', legX: 1052.5, legY: 735, keyX: [1099, 1136, 1170], keyCy: 731.7, keyW: 12, keyH: 9,
  keyTextX: [1112.7, 1147.5, 1182], keyFs: 8.5
});

/* ---------- Shared stacked bar panel ---------- */
function drawStacked(cfg) {
  const g = group(cfg.name);
  const Y = p => 1388.3 - p / 100 * 210.3;
  for (let p = 0; p <= 100; p += 5) {
    line(g, 'percent-gridline', cfg.gridL, Y(p), cfg.gridR, Y(p), p % 10 === 0 ? '#ececec' : '#f3f3f3', .9);
  }
  gPercentTicks.forEach(p => {
    line(g, 'percent-tick', cfg.gridL - 3, Y(p), cfg.gridL, Y(p), '#555', .9);
    label(g, 'percent-tick-label', cfg.gridL - 7, Y(p) + 4.6, p + '%', 13, {anchor: 'end', fill: '#777'});
  });
  cfg.categories.forEach((c, i) => {
    const x0 = cfg.barL[i], w = cfg.barW, cx = x0 + w / 2;
    add(g, 'rect', 'bar-false-' + slug(c), {x: x0, y: Y(cfg.falsePct[i]), width: w, height: Y(0) - Y(cfg.falsePct[i]), fill: '#D95F02', stroke: '#3a3a3a', 'stroke-width': 1.1});
    add(g, 'rect', 'bar-true-' + slug(c), {x: x0, y: Y(100), width: w, height: Y(cfg.falsePct[i]) - Y(100), fill: '#1B9E77', stroke: '#3a3a3a', 'stroke-width': 1.1});
    const lx = cx - cfg.labelShift;
    [[cfg.truePct[i], cfg.falsePct[i] + cfg.truePct[i] / 2, 'true'], [cfg.falsePct[i], cfg.falsePct[i] / 2, 'false']].forEach(d => {
      const bw = d[0] < 10 ? 30 : 38;
      add(g, 'rect', 'percent-label-box-' + d[2], {x: lx - bw / 2, y: Y(d[1]) - 11, width: bw, height: 22, rx: 2, fill: '#fff', stroke: '#333', 'stroke-width': 1});
      label(g, 'percent-label-' + d[2], lx, Y(d[1]) + 5.5, d[0] + '%', 15, {anchor: 'middle', fill: '#222'});
    });
    const pw = cfg.p[i].length > 6 ? 62 : 46;
    const pt = add(g, 'text', 'bar-p-value', {x: cx, y: 1171, 'font-size': 10.5, 'text-anchor': 'middle', fill: '#222', textLength: pw, lengthAdjust: 'spacingAndGlyphs'});
    add(pt, 'tspan', 'bar-p-symbol', {'font-style': 'italic'}, 'p');
    add(pt, 'tspan', 'bar-p-number', {}, ' =' + cfg.p[i]);
    label(g, 'bar-count-label', cx - 1, 1405, '(n = ' + cfg.counts[i] + ')', 15, {anchor: 'middle', fill: '#333'});
    line(g, 'x-tick', cx, 1410, cx, 1413.5, '#555', .9);
    label(g, 'x-tick-label-' + slug(c), cx, 1426, c, 11, {anchor: 'middle', fill: '#888'});
  });
  label(g, 'x-axis-title', cfg.titleX, 1445, cfg.title, 14, {anchor: 'middle', bold: true, fill: '#111'});
  label(g, 'legend-title', cfg.legX, 1262, 'TIDE_Responder', 13.5, {bold: true, len: cfg.legLen, fill: '#222'});
  add(g, 'rect', 'legend-swatch-true', {x: cfg.swX, y: 1271, width: 22, height: 21.7, fill: '#1B9E77', stroke: '#3a3a3a', 'stroke-width': 1});
  add(g, 'rect', 'legend-swatch-false', {x: cfg.swX, y: 1295, width: 22, height: 21.7, fill: '#D95F02', stroke: '#3a3a3a', 'stroke-width': 1});
  label(g, 'legend-label-true', cfg.legTextX, 1288, 'TRUE', 13.5, {fill: '#333', len: cfg.trueLen});
  label(g, 'legend-label-false', cfg.legTextX, 1312, 'FASLE', 13.5, {fill: '#333', len: cfg.falseLen});
  const sizes = {n: [13, 0, '#333'], i: [13, 0, '#333'], sub: [7.5, 4.3, '#333'], sup: [7.5, -9, '#333']};
  cfg.pieces.forEach(p => {
    const kind = sizes[p[3]], base = p[4] === 'b' ? 1470.7 : 1141;
    label(g, 'statistics-text', cfg.vx(p[1]), base + kind[1], p[0], kind[0], {fill: kind[2], len: (p[2] - p[1]) / cfg.vs, italic: p[3] === 'i'});
  });
  cfg.hats.forEach(h => {
    add(g, 'polyline', 'v-hat', {points: (h[0] - 5) + ',' + (h[1] + 4) + ' ' + h[0] + ',' + h[1] + ' ' + (h[0] + 5) + ',' + (h[1] + 4), fill: 'none', stroke: '#333', 'stroke-width': .8});
  });
}
const gVx = v => v / 2.42;
drawStacked({
  name: 'risk-tide-stacked-bars', categories: gCategories, counts: gCounts, truePct: gTruePct, falsePct: gFalsePct, p: gPLabels,
  barL: [100.8, 292.6], barW: 172.4, gridL: 71, gridR: 492.6, labelShift: 1, title: 'Risk', titleX: 281,
  legX: 515.3, legLen: 104.5, swX: 517, legTextX: 546, trueLen: 32.6, falseLen: 41, vx: gVx, vs: 2.42,
  hats: [[gVx(667), 1126], [gVx(538), 1456]],
  pieces: [['\u03c7',172,190,'i'],['2',187,200,'sup'],['Pearson',190,270,'sub'],['(1) = 84.03,',272,432,'n'],['p',447,465,'i'],['= 4.87e-20,',480,633,'n'],['V',655,680,'i'],['Cramer',680,752,'sub'],['= 0.38,',762,855,'n'],['CI',875,905,'n'],['95%',905,945,'sub'],['[0.31, 1.00],',958,1132,'n'],['n',1143,1160,'i'],['obs',1165,1195,'sub'],['= 589',1207,1288,'n'],
    ['log',265,305,'n','b'],['e',305,316,'sub','b'],['(BF',316,360,'n','b'],['01',362,385,'sub','b'],[') = -36.23,',385,518,'n','b'],['V',528,548,'i','b'],['posterior',550,628,'sup','b'],['Cramer',548,612,'sub','b'],['= 0.38, CI',632,762,'n','b'],['HDI',765,798,'sup','b'],['95%',765,798,'sub','b'],['[0.29, 0.46],',808,965,'n','b'],['a',975,988,'i','b'],['Gunel-Dickey',988,1103,'sub','b'],['= 1.00',1105,1192,'n','b']]
});
const hVx = v => 650 + v / 2.44;
drawStacked({
  name: 'grade-tide-stacked-bars', categories: hCategories, counts: hCounts, truePct: hTruePct, falsePct: hFalsePct, p: hPLabels,
  barL: [749.2, 881, 1013.5], barW: 119.4, gridL: 728.7, gridR: 1150.8, labelShift: 0, title: 'Grade', titleX: 940,
  legX: 1173.8, legLen: 106.5, swX: 1175, legTextX: 1204, trueLen: 34.5, falseLen: 43, vx: hVx, vs: 2.44,
  hats: [[hVx(693), 1126], [hVx(563), 1456]],
  pieces: [['\u03c7',192,210,'i'],['2',207,220,'sup'],['Pearson',210,293,'sub'],['(2) = 45.09,',295,457,'n'],['p',472,490,'i'],['= 1.62e-10,',503,660,'n'],['V',682,705,'i'],['Cramer',705,778,'sub'],['= 0.27,',790,885,'n'],['CI',905,935,'n'],['95%',935,975,'sub'],['[0.20, 1.00],',988,1160,'n'],['n',1172,1190,'i'],['obs',1195,1225,'sub'],['= 589',1237,1318,'n'],
    ['log',287,328,'n','b'],['e',328,339,'sub','b'],['(BF',339,385,'n','b'],['01',385,410,'sub','b'],[') = -19.71,',410,540,'n','b'],['V',553,573,'i','b'],['posterior',575,654,'sup','b'],['Cramer',573,638,'sub','b'],['= 0.28, CI',658,788,'n','b'],['HDI',792,826,'sup','b'],['95%',790,826,'sub','b'],['[0.21, 0.35],',835,990,'n','b'],['a',1002,1015,'i','b'],['Gunel-Dickey',1015,1132,'sub','b'],['= 1.00',1137,1222,'n','b']]
});

/* ---------- Shared expression box panel ---------- */
function drawExpression(cfg) {
  const g = group(cfg.name);
  const Y = v => cfg.y0 - v * cfg.k;
  function box(cx, s, outs, color, cname) {
    const hw = cfg.boxW / 2;
    outs.forEach(v => add(g, 'circle', 'outlier-' + cname, {cx: cx, cy: Y(v), r: 1.9, fill: color}));
    line(g, 'whisker-' + cname, cx, Y(Math.min(s[0], s[1])), cx, Y(s[1]), color, 1.2);
    line(g, 'whisker-' + cname, cx, Y(s[3]), cx, Y(s[4]), color, 1.2);
    add(g, 'rect', 'box-' + cname, {x: cx - hw, y: Y(s[3]), width: cfg.boxW, height: Y(s[1]) - Y(s[3]), fill: '#fff', stroke: color, 'stroke-width': 1.1});
    line(g, 'median-' + cname, cx - hw, Y(s[2]), cx + hw, Y(s[2]), color, 1.8);
  }
  cfg.genes.forEach((gene, i) => {
    const cx = cfg.xs(i);
    box(cx - cfg.dodge, cfg.high[i], cfg.highOut[i], '#FF0000', 'high-' + slug(gene));
    box(cx + cfg.dodge, cfg.low[i], cfg.lowOut[i], '#0000FF', 'low-' + slug(gene));
    label(g, 'significance-stars', cx, 1584, '***', 9.5, {anchor: 'middle', fill: '#333'});
    line(g, 'x-tick', cx, cfg.bottom, cx, cfg.bottom + 3, '#333', .9);
    label(g, 'gene-label-' + slug(gene), cx + 6.5, cfg.labelY, gene, 11.5, {anchor: 'end', fill: '#444', rot: -60});
  });
  line(g, 'y-axis-line', cfg.left, cfg.top, cfg.left, cfg.bottom, '#333', 1);
  line(g, 'x-axis-line', cfg.left, cfg.bottom, cfg.right, cfg.bottom, '#333', 1);
  cfg.yTicks.forEach(v => {
    line(g, 'y-tick', cfg.left - 3, Y(v), cfg.left, Y(v), '#333', .9);
    label(g, 'y-tick-label', cfg.left - 5, Y(v) + 4.2, String(v), 11.5, {anchor: 'end', fill: '#333'});
  });
  label(g, 'y-axis-title', cfg.yTitleX, cfg.yTitleY, 'Expression log2(TPM+1)', 10.7, {anchor: 'middle', fill: '#333', rot: -90});
  label(g, 'legend-title', cfg.legX, 1556, 'Risk', 11, {fill: '#333'});
  drawBoxKey(g, cfg.legX + 29.6, 1552.7, 12, 8.5, '#FF0000', false);
  label(g, 'legend-label-high', cfg.legX + 43, 1556, 'high', 9, {fill: '#444'});
  drawBoxKey(g, cfg.legX + 72.6, 1552.7, 12, 8.5, '#0000FF', false);
  label(g, 'legend-label-low', cfg.legX + 85.6, 1556, 'low', 9, {fill: '#444'});
}
drawExpression({
  name: 'immune-regulators-boxplot', genes: iGenes, xs: i => 88.3 + i * 57, dodge: 11.3, boxW: 17.3,
  high: iHighStats, low: iLowStats, highOut: iHighOutliers, lowOut: iLowOutliers,
  y0: 1788.3, k: 26.83, left: 54.7, right: 406.7, top: 1576.7, bottom: 1798.3, yTicks: iYTicks, labelY: 1808,
  yTitleX: 38, yTitleY: 1686.7, legX: 181.7
});
drawExpression({
  name: 'chemokines-boxplot', genes: jGenes, xs: i => 512.7 + i * 49, dodge: 9.7, boxW: 15,
  high: jHighStats, low: jLowStats, highOut: jHighOutliers, lowOut: jLowOutliers,
  y0: 1784.3, k: 26.44, left: 483.7, right: 836, top: 1576.7, bottom: 1793.3, yTicks: jYTicks, labelY: 1803,
  yTitleX: 467.3, yTitleY: 1685, legX: 607.7
});
drawExpression({
  name: 'immune-checkpoints-boxplot', genes: kGenes, xs: i => 946.7 + i * 56.75, dodge: 11.3, boxW: 17.3,
  high: kHighStats, low: kLowStats, highOut: kHighOutliers, lowOut: kLowOutliers,
  y0: 1786.7, k: 27, left: 912.7, right: 1264.3, top: 1576.7, bottom: 1796.7, yTicks: kYTicks, labelY: 1807,
  yTitleX: 896, yTitleY: 1686, legX: 1037.3
});
</script>
</body>
</html>
